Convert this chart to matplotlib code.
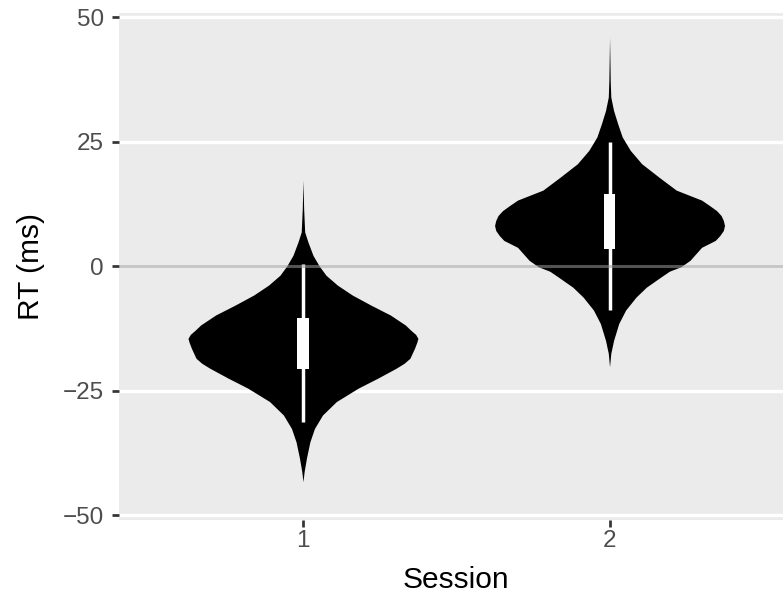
import numpy as np
import matplotlib.pyplot as plt

plt.rcParams['font.family'] = ['Liberation Sans', 'DejaVu Sans']

sessions = [1, 2]

# violin outlines: RT (ms) and relative density (1 = widest point)
s1_rt = [17.3, 11.6, 6.9, 4.9, 2.2, 0.1, -1.8, -3.8, -5.8, -7.8, -9.8, -11.8, -12.9,
         -13.7, -14.5, -15.3, -16.5, -17.5, -18.5, -19.5, -20.5, -22.5, -24.5, -27.2,
         -29.9, -32.6, -35.3, -38.6, -41.3, -43.3]
s1_dens = [0, .006, .015, .043, .087, .14, .20, .30, .43, .59, .76, .89, .94,
           .98, 1.0, .99, .97, .95, .93, .88, .81, .65, .48, .29,
           .17, .10, .06, .03, .01, 0]

s2_rt = [46.0, 37.3, 34.0, 31.3, 28.7, 26.0, 23.3, 20.6, 17.9, 15.3, 13.3, 12.2, 11.2,
         10.2, 9.2, 8.2, 7.2, 6.2, 5.2, 3.8, 2.5, 1.2, -0.1, -1.0, -2.1, -4.2, -6.2,
         -8.8, -11.5, -14.9, -17.5, -20.2]
s2_dens = [0, .006, .011, .035, .07, .11, .18, .28, .43, .58, .80, .87, .93,
           .97, .99, 1.0, .99, .96, .92, .80, .75, .70, .62, .52, .45, .32, .23,
           .14, .08, .035, .011, 0]

# box summaries per session
q1 = [-20.6, 3.5]
q3 = [-10.4, 14.6]
whisk_lo = [-31.3, -8.8]
whisk_hi = [0.4, 25.0]

fig = plt.figure(figsize=(7.83, 5.97), dpi=100)
ax = fig.add_axes([119 / 783, 77.5 / 597, 674.5 / 783, 506.5 / 597])
ax.set_facecolor('#EBEBEB')
for sp in ax.spines.values():
    sp.set_visible(False)

ax.set_xlim(0.4, 2.6)
ax.set_ylim(-50.9, 50.9)
ax.set_yticks([-50, -25, 0, 25, 50])
ax.set_yticklabels(['\u221250', '\u221225', '0', '25', '50'])
ax.set_xticks(sessions)
ax.set_xticklabels([str(s) for s in sessions])
ax.grid(axis='y', color='white', linewidth=2.4)
ax.set_axisbelow(True)

half_w = 0.375
for s, rt, dens in zip(sessions, [s1_rt, s2_rt], [s1_dens, s2_dens]):
    rt = np.array(rt)
    dens = np.array(dens)
    ax.fill_betweenx(rt, s - half_w * dens, s + half_w * dens,
                     color='black', linewidth=0, zorder=2)

ax.vlines(sessions, whisk_lo, whisk_hi, color='white', linewidth=2.5, zorder=3)
ax.bar(sessions, np.array(q3) - np.array(q1), bottom=q1, width=0.038,
       color='white', linewidth=0, zorder=4)

ax.axhline(0, color='#999999', alpha=0.55, linewidth=2.2, zorder=5)

ax.tick_params(length=4.75, width=1.95, color='#333333', labelcolor='#4D4D4D',
               labelsize=17.5)
ax.tick_params(axis='y', pad=6)
ax.tick_params(axis='x', pad=3)

fig.text(31 / 783, 1 - 266.5 / 597, 'RT (ms)', rotation=90, ha='center',
         va='center', fontsize=21.5)
fig.text(456 / 783, 1 - 588 / 597, 'Session', ha='center', va='baseline',
         fontsize=21.5)

fig.savefig('out.png', dpi=100)
